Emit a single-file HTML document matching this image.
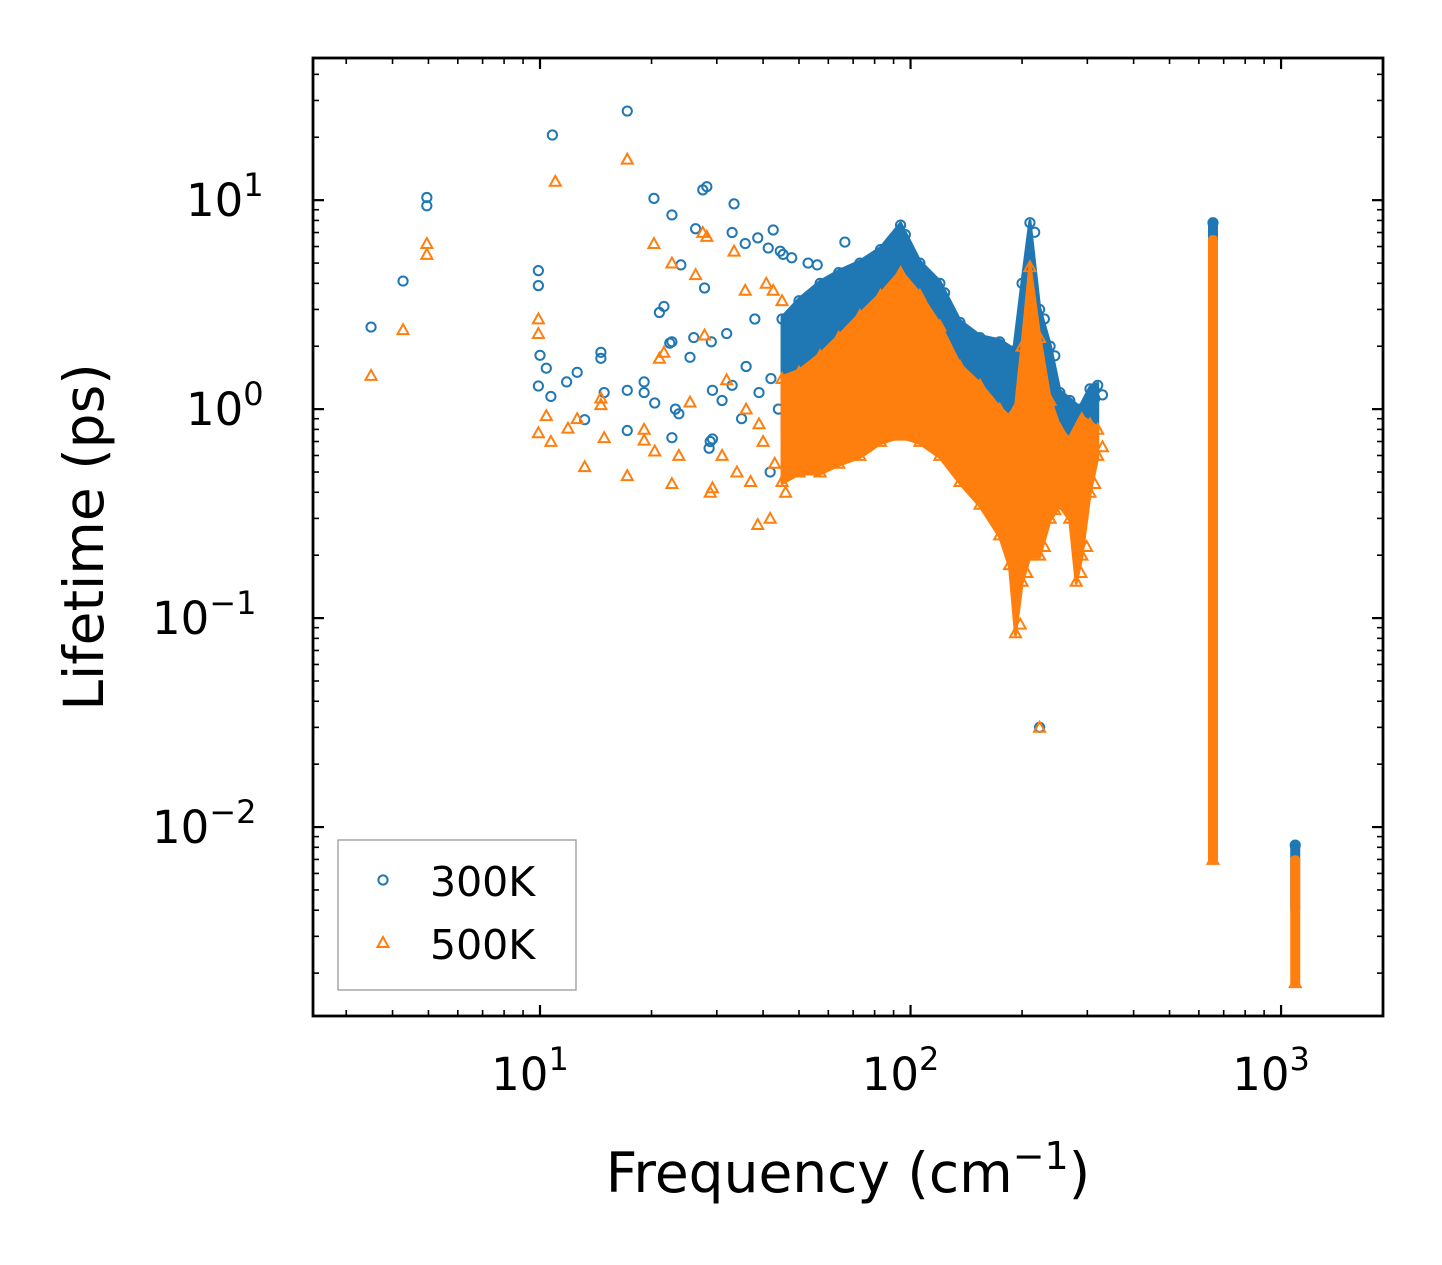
<!DOCTYPE html>
<html><head><meta charset="utf-8">
<style>
html,body{margin:0;padding:0;background:#fff;}
svg{display:block;font-family:"DejaVu Sans","Liberation Sans",sans-serif;}
</style></head>
<body>
<svg id="chart" width="1442" height="1265" viewBox="0 0 1442 1265" xmlns="http://www.w3.org/2000/svg">
<rect x="0" y="0" width="1442" height="1265" fill="#fff"/>
<g id="marks"></g>
<g id="axes"></g>
</svg>
<script>
// ---- data ----
const blueIsolated = [[3.5,2.47],[4.27,4.1],[4.95,10.3],[4.95,9.4],[9.9,4.6],[9.9,3.9],[9.9,1.29],[10,1.81],[10.8,20.5],[10.4,1.57],[10.7,1.15],[11.8,1.35],[12.6,1.5],[13.2,0.89],[14.6,1.87],[14.6,1.75],[14.9,1.2],[17.2,26.7],[17.2,1.23],[17.2,0.79],[19.1,1.35],[19.1,1.2],[20.3,10.2],[20.4,1.07],[21,2.9],[21.6,3.1],[22.7,8.5],[22.7,0.73],[22.4,2.07],[22.7,2.1],[23.2,1.0],[23.7,0.95],[24,4.9],[25.4,1.77],[26.3,7.3],[26,2.2],[27.5,11.2],[28.2,11.6],[27.8,3.8],[28.8,0.7],[29.2,0.72],[28.6,0.65],[29,2.1],[29.2,1.23],[31.9,2.3],[33.4,9.6],[33,7],[35.8,6.2],[38,2.7],[38.7,6.6],[41.3,5.9],[41.8,0.5],[42.6,7.2],[44.5,5.7],[45.3,5.5],[47.8,5.3],[52.9,5.0],[56,4.9],[66.5,6.3],[36,1.6],[39,1.2],[42,1.4],[44,1.0],[47,1.9],[31,1.1],[33,1.3],[35,0.9],[223,0.03]];
const orangeIsolated = [[3.5,1.45],[4.27,2.4],[4.95,6.2],[4.95,5.5],[9.9,2.7],[9.9,2.3],[9.9,0.77],[10.4,0.93],[10.7,0.7],[11,12.3],[11.9,0.81],[12.6,0.9],[13.2,0.53],[14.6,1.13],[14.6,1.05],[14.9,0.73],[17.2,15.7],[17.2,0.48],[19.1,0.8],[19.1,0.71],[20.3,6.2],[20.4,0.63],[21,1.75],[21.6,1.87],[22.7,5.0],[22.7,0.44],[23.7,0.6],[25.4,1.08],[26.3,4.4],[27.5,7.0],[28.2,6.7],[27.8,2.26],[28.8,0.4],[29.2,0.42],[31.9,1.38],[33.4,5.7],[35.8,3.7],[38.7,0.28],[40.8,4.0],[41.8,0.3],[42.6,3.7],[45,3.3],[31,0.6],[34,0.5],[37,0.45],[40,0.7],[43,0.55],[46,0.4],[36,1.0],[39,0.85],[223,0.03]];

const blueEnvFreq = [45,50,57,64,73,83,94,106,120,136,154,174,190,200,210,223,238,253,269,286,305,320];
const blueEnvTop  = [2.7,3.3,4.0,4.5,5.0,5.8,7.6,5.0,4.0,2.6,2.2,2.1,1.9,4.0,7.8,3.0,2.0,1.2,1.1,1.0,1.25,1.3];
const blueEnvBot  = [0.8,0.8,0.9,1.0,1.1,1.2,1.3,1.1,0.9,0.8,0.7,0.6,0.4,0.5,0.7,0.6,0.6,0.6,0.5,0.6,0.7,0.8];

const orangeEnvFreq = [45,50,57,64,73,83,94,106,120,136,154,174,185,192,200,210,223,238,253,269,280,290,305,320];
const orangeEnvTop  = [1.4,1.5,1.8,2.2,2.8,3.5,4.5,3.5,2.5,1.6,1.3,1.0,0.9,1.0,2.0,4.8,2.2,1.1,0.8,0.7,0.8,0.9,0.85,0.8];
const orangeEnvBot  = [0.45,0.5,0.5,0.55,0.6,0.7,0.75,0.7,0.6,0.45,0.35,0.25,0.18,0.085,0.15,0.2,0.2,0.3,0.35,0.3,0.15,0.2,0.4,0.6];

const columnFreq = [655, 1092];
const blueColTop = [7.8, 0.0082];
const blueColBot = [0.0085, 0.004];
const orangeColTop = [6.5, 0.007];
const orangeColBot = [0.007, 0.0018];

const xTickVals = [10, 100, 1000];
const xTickExp = ["1","2","3"];
const yTickVals = [10, 1, 0.1, 0.01];
const yTickExp = ["1","0","\u22121","\u22122"];

// ---- axes geometry ----
const L=313,R=1383,T=58,B=1016;
const xMin=Math.log10(2.44), xMax=Math.log10(1884);
const yMin=Math.log10(0.001247), yMax=Math.log10(47.9);
const X=v=>L+(Math.log10(v)-xMin)/(xMax-xMin)*(R-L);
const Y=v=>B-(Math.log10(v)-yMin)/(yMax-yMin)*(B-T);
const NS="http://www.w3.org/2000/svg";
const marks=document.getElementById('marks'), axes=document.getElementById('axes');
function el(tag,attrs,parent){const e=document.createElementNS(NS,tag);for(const k in attrs)e.setAttribute(k,attrs[k]);parent.appendChild(e);return e;}
const BLUE="#1f77b4", ORANGE="#ff7f0e";

function circle(f,t,parent){
  const c=el('circle',{cx:X(f),cy:Y(t),r:4.6,fill:'none',stroke:BLUE,'stroke-width':2},parent);
  
  
}
function tri(f,t,parent){
  const x=X(f),y=Y(t),s=5.5;
  const p=el('polygon',{points:`${x},${y-s} ${x-s},${y+s*0.8} ${x+s},${y+s*0.8}`,fill:'none',stroke:ORANGE,'stroke-width':2},parent);
  
  
}
function envelope(freq,top,bot,color,name){
  let pts=freq.map((f,i)=>`${X(f)},${Y(top[i])-2}`);
  for(let i=freq.length-1;i>=0;i--)pts.push(`${X(freq[i])},${Y(bot[i])+2}`);
  const p=el('polygon',{points:pts.join(' '),fill:color,stroke:color,'stroke-width':3,'stroke-linejoin':'round'},marks);
  
  
}
function column(i,top,bot,color,name){
  const r=el('rect',{x:X(columnFreq[i])-5,y:Y(top[i])-4,width:10,height:Y(bot[i])-Y(top[i])+8,fill:color,rx:4},marks);
  
  
}

// blue series
const gB=el('g',{},marks);


envelope(blueEnvFreq,blueEnvTop,blueEnvBot,BLUE,'cluster-300k');
blueEnvFreq.forEach((f,i)=>{circle(f,blueEnvTop[i],gB);circle(f*1.03,blueEnvTop[i]*0.9,gB);});
column(0,blueColTop,blueColBot,BLUE,'column-300k-655');
column(1,blueColTop,blueColBot,BLUE,'column-300k-1092');
[0,1].forEach(i=>{circle(columnFreq[i],blueColTop[i],gB);});
blueIsolated.forEach(d=>circle(d[0],d[1],gB));
// orange series
const gO=el('g',{},marks);


envelope(orangeEnvFreq,orangeEnvTop,orangeEnvBot,ORANGE,'cluster-500k');
orangeEnvFreq.forEach((f,i)=>{tri(f,orangeEnvBot[i],gO);tri(f*1.03,orangeEnvBot[i]*1.1,gO);tri(f,orangeEnvTop[i],gO);});
column(0,orangeColTop,orangeColBot,ORANGE,'column-500k-655');
column(1,orangeColTop,orangeColBot,ORANGE,'column-500k-1092');
[0,1].forEach(i=>{tri(columnFreq[i],orangeColBot[i],gO);});
orangeIsolated.forEach(d=>tri(d[0],d[1],gO));

// frame
const fr=el('rect',{x:L,y:T,width:R-L,height:B-T,fill:'none',stroke:'#000','stroke-width':2.8},axes);



// ticks
function tick(x1,y1,x2,y2,w){el('line',{x1,y1,x2,y2,stroke:'#000','stroke-width':w},axes);}
for(let d=0;d<=3;d++){for(let m=1;m<10;m++){const v=m*Math.pow(10,d);const lv=Math.log10(v);if(lv<xMin||lv>xMax)continue;const x=X(v);const len=m===1?11:6;const w=m===1?2.2:1.6;tick(x,B,x,B-len,w);tick(x,T,x,T+len,w);}}
for(let d=-3;d<=1;d++){for(let m=1;m<10;m++){const v=m*Math.pow(10,d);const lv=Math.log10(v);if(lv<yMin||lv>yMax)continue;const y=Y(v);const len=m===1?11:6;const w=m===1?2.2:1.6;tick(L,y,L+len,y,w);tick(R,y,R-len,y,w);}}

// tick labels
xTickVals.forEach((v,i)=>{
  const t=el('text',{x:X(v)-10,y:1090,'font-size':45,'text-anchor':'middle',fill:'#000'},axes);
  
  
  t.textContent='10';
  const s=el('tspan',{dy:-20,'font-size':32},t); s.textContent=xTickExp[i];
});
yTickVals.forEach((v,i)=>{
  const t=el('text',{x:yTickExp[i].length>1?152:186,y:Y(v)+16,'font-size':45,fill:'#000'},axes);
  
  
  t.textContent='10';
  const s=el('tspan',{dy:-20,'font-size':32},t); s.textContent=yTickExp[i];
});

// axis titles
const xt=el('text',{x:848,y:1192,'font-size':55,'text-anchor':'middle',fill:'#000'},axes);


xt.textContent='Frequency (cm';
const xs=el('tspan',{dy:-23,'font-size':38},xt); xs.textContent='\u22121';
const xs2=el('tspan',{dy:23},xt); xs2.textContent=')';
const yt=el('text',{x:0,y:0,'font-size':55,'text-anchor':'middle',fill:'#000',transform:'translate(103,537) rotate(-90)'},axes);


yt.textContent='Lifetime (ps)';

// legend
const lg=el('g',{},axes);


el('rect',{x:338,y:840,width:238,height:150,fill:'#fff',stroke:'#999','stroke-width':1.3},lg);
const c1=el('circle',{cx:383,cy:880,r:4.6,fill:'none',stroke:BLUE,'stroke-width':2},lg);


const p1=el('polygon',{points:'383,937 377.5,947 388.5,947',fill:'none',stroke:ORANGE,'stroke-width':2},lg);


const l1=el('text',{x:430,y:896,'font-size':41,fill:'#000'},lg);


l1.textContent='300K';
const l2=el('text',{x:430,y:959,'font-size':41,fill:'#000'},lg);


l2.textContent='500K';
</script>
</body></html>
